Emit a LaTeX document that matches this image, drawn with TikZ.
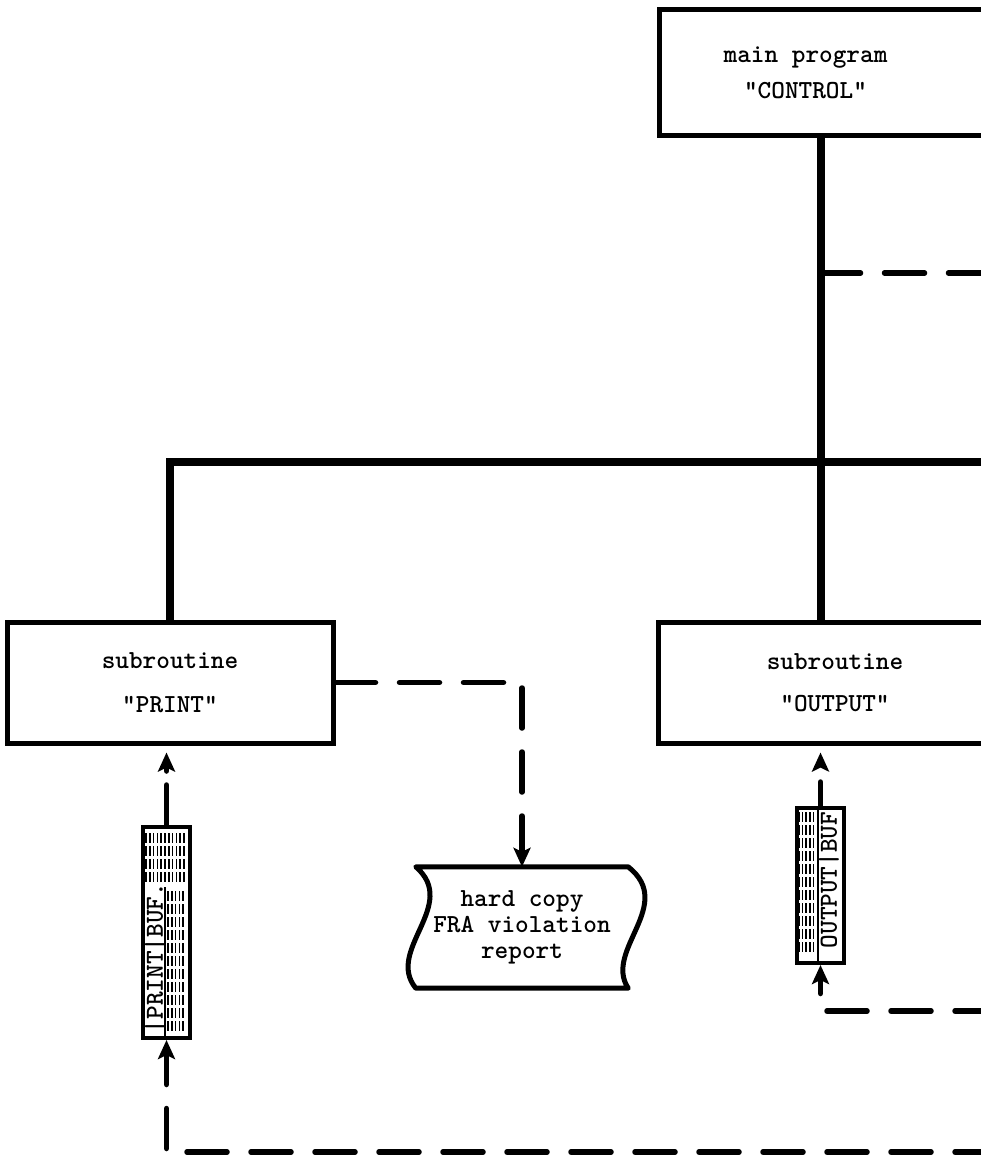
\documentclass[tikz,border=0pt]{standalone}
\usepackage{tikz}
\usetikzlibrary{arrows.meta,positioning,calc}
\tikzset{
	box/.style={draw, line width=5pt, align=center, inner sep=0pt,
		minimum height=121pt, font=\fontsize{26}{30}\selectfont\ttfamily\bfseries},
	boxtext/.style={align=center, inner sep=0pt, font=\fontsize{26}{30}\selectfont\ttfamily\bfseries},
	bus/.style={line width=8pt},
	dashline/.style={line width=5.5pt, line cap=round, dash pattern=on 40pt off 24pt},
	dasharrow/.style={dashline, -{Stealth[length=19pt, width=17pt, inset=4pt]}},
	bufbox/.style={draw, line width=4pt, minimum width=47pt, inner sep=0pt},
	buftext/.style={rotate=90, inner sep=0pt, font=\fontsize{26}{30}\selectfont\ttfamily\bfseries},
	hatch/.style={line width=1.6pt}
}

\begin{document}
\begin{tikzpicture}[x=1pt, y=-1pt]
	
	\useasboundingbox (0,0) rectangle (981,1156);
	\clip (0,0) rectangle (981,1156);
	
	%% -- main program (runs off the right edge)
	\node[box, minimum width=360pt, minimum height=126pt, anchor=north west]
	(control) at (657,7) {};
	\node[boxtext] (controltext) at ([xshift=-34pt]control.center)
	{main program\\[6pt]"CONTROL"};
	
	%% -- subroutines
	\node[box, minimum width=326pt] (print) at (170,682.5)
	{subroutine\\[14pt]"PRINT"};
	\node[box, minimum width=354pt] (output) at (835,682.5)
	{subroutine\\[12pt]"OUTPUT"};
	
	%% -- buffers
	\node[bufbox, minimum height=211pt] (printbuf) at (166.5,932.5) {};
	\node[bufbox, minimum height=155pt] (outbuf) at (820.5,885.5) {};
	
	\foreach \r in {0,...,3}
	\foreach \c in {0,...,10}
	\draw[hatch] ($(printbuf.north west)+(5+3.8*\c,8+13*\r)$) -- ++(0,10);
	\foreach \r in {0,...,10}
	\foreach \c in {0,...,4}
	\draw[hatch] ($(printbuf.north west)+(27+3.8*\c,66+13*\r)$) -- ++(0,10);
	\draw[hatch] ($(printbuf.north west)+(24,62)$) -- ($(printbuf.south west)+(24,0)$);
	\node[buftext] (printlabel) at ($(printbuf.north west)+(14,133)$) {|PRINT|BUF.};
	
	\foreach \r in {0,...,10}
	\foreach \c in {0,...,4}
	\draw[hatch] ($(outbuf.north west)+(4+3.6*\c,6+13*\r)$) -- ++(0,10);
	\draw[hatch] ($(outbuf.north west)+(23,4)$) -- ($(outbuf.south west)+(23,-4)$);
	\node[buftext] (outlabel) at ($(outbuf.north west)+(34,74)$) {OUTPUT|BUF};
	
	%% -- hard copy report
	\node[boxtext, minimum width=212pt, minimum height=121pt,
	font=\fontsize{26}{26}\selectfont\ttfamily\bfseries] (hardcopy) at (522,927.5)
	{hard copy\\FRA violation\\report};
	\draw[line width=5pt, line join=round]
	(hardcopy.north west) -- (hardcopy.north east)
	.. controls +(48,38) and +(-25,-38) .. (hardcopy.south east)
	-- (hardcopy.south west)
	.. controls +(-31,-38) and +(44,38) .. (hardcopy.north west) -- cycle;
	
	%% -- free ends past the right edge
	\coordinate (busend) at (995,462);
	\coordinate (ctrlend) at (995,273);
	\coordinate (printret) at (995,1152);
	\coordinate (outret) at (995,1011);
	
	%% -- calls
	\draw[bus] (control.south -| outbuf) -- (output.north -| outbuf);
	\draw[bus] (print.north) |- (busend);
	\draw[dashline] (ctrlend -| outbuf) -- (ctrlend);
	
	%% -- data paths
	\draw[dasharrow] (print.east) -| (hardcopy.north);
	\draw[dasharrow, dash pattern=on 40pt off 14pt, shorten >=7pt]
	(printbuf.north) -- (print.south -| printbuf);
	\draw[dasharrow, dash pattern=on 24pt off 16pt, shorten >=7pt]
	(outbuf.north) -- (output.south -| outbuf);
	\draw[dasharrow] (printret) -| (printbuf.south);
	\draw[dasharrow] (outret) -| (outbuf.south);
	
\end{tikzpicture}
\end{document}
